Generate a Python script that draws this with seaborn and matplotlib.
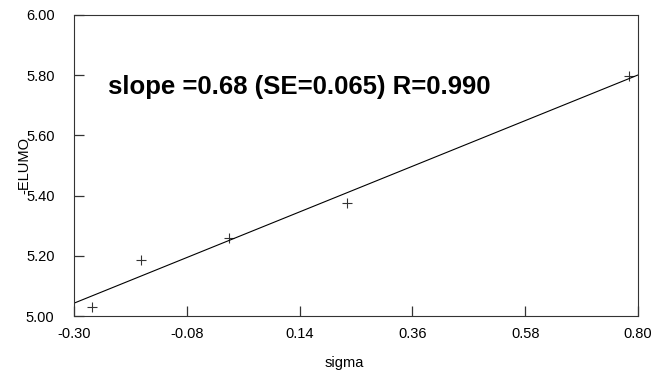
import matplotlib
matplotlib.use("Agg")
import matplotlib.pyplot as plt
import seaborn as sns
import pandas as pd

# values
sigma = [-0.265, -0.169, 0.002, 0.232, 0.782]
elumo = [5.03, 5.186, 5.26, 5.375, 5.797]
x_ticks = [-0.30, -0.08, 0.14, 0.36, 0.58, 0.80]
y_ticks = [5.00, 5.20, 5.40, 5.60, 5.80, 6.00]
note = "slope =0.68 (SE=0.065) R=0.990"

df = pd.DataFrame({"sigma": sigma, "-ELUMO": elumo})

sns.set_style("ticks", {"xtick.direction": "in", "ytick.direction": "in"})
plt.rcParams["font.family"] = ["Liberation Sans", "DejaVu Sans"]
plt.rcParams["text.color"] = "black"
plt.rcParams["axes.labelcolor"] = "black"

fig = plt.figure(figsize=(6.52, 3.71), dpi=100)
ax = fig.add_axes([0.1135, 0.148, 0.865, 0.812])
ax.set_xlim(-0.30, 0.80)
ax.set_ylim(5.00, 6.00)

sns.regplot(x="sigma", y="-ELUMO", data=df, ax=ax, ci=None, truncate=False,
            marker="+", color="black",
            scatter_kws={"s": 60, "linewidths": 0.8},
            line_kws={"linewidth": 0.8})

ax.set_xticks(x_ticks)
ax.set_xticklabels([f"{v:.2f}" for v in x_ticks])
ax.set_yticks(y_ticks)
ax.set_yticklabels([f"{v:.2f}" for v in y_ticks])
ax.tick_params(axis="both", which="major", direction="in", length=7,
               width=0.9, labelsize=10.5, color="#333333",
               labelcolor="black", bottom=True, left=True, pad=8)
ax.tick_params(axis="y", pad=14)

for s in ax.spines.values():
    s.set_visible(True)
    s.set_color("#333333")
    s.set_linewidth(0.8)

ax.set_xlabel("sigma", fontsize=10.5)
ax.xaxis.set_label_coords(0.48, -0.133)
ax.set_ylabel("-ELUMO", fontsize=10.5)
ax.yaxis.set_label_coords(-0.075, 0.5)

ax.text(0.06, 0.76, note, transform=ax.transAxes, fontsize=18.5,
        fontweight="bold", va="center", ha="left", color="black")

fig.savefig("out.png", dpi=100)
